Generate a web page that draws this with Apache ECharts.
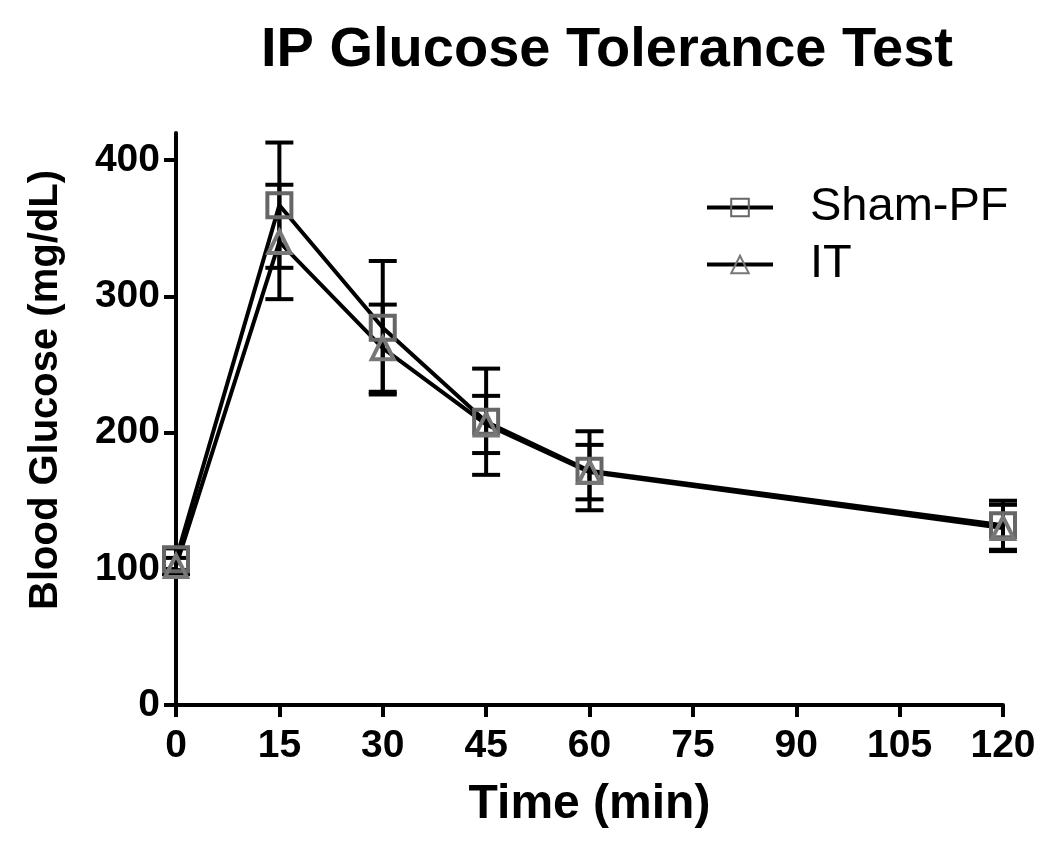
<!DOCTYPE html>
<html><head><meta charset="utf-8">
<script src="https://cdn.jsdelivr.net/npm/echarts@6/dist/echarts.min.js"></script>
<style>html,body{margin:0;padding:0;background:#fff}#c{width:1050px;height:861px}</style>
</head><body><div id="c"></div>
<script>
const times = [0, 15, 30, 45, 60, 120];
const shamMean = [107, 367, 277, 208, 172, 132];
const shamSem  = [8, 46, 49, 39, 29, 18];
const itMean   = [102, 340, 262, 206, 171, 130];
const itSem    = [6, 42, 32, 21, 20, 17];
const xTicks = [0, 15, 30, 45, 60, 75, 90, 105, 120];
const yTicks = [0, 100, 200, 300, 400];

const FONT = '"Liberation Sans", Arial, sans-serif';
const chart = echarts.init(document.getElementById('c'));

function errData(mean, sem) {
  return times.map((t, i) => [t, mean[i] - sem[i], mean[i] + sem[i]]);
}
function errRender(params, api) {
  const x = api.value(0);
  const lo = api.coord([x, api.value(1)]);
  const hi = api.coord([x, api.value(2)]);
  const w = 14;
  const st = { stroke: '#000', lineWidth: 4 };
  return { type: 'group', children: [
    { type: 'line', shape: { x1: lo[0], y1: lo[1], x2: hi[0], y2: hi[1] }, style: st },
    { type: 'line', shape: { x1: lo[0] - w, y1: lo[1], x2: lo[0] + w, y2: lo[1] }, style: st },
    { type: 'line', shape: { x1: hi[0] - w, y1: hi[1], x2: hi[0] + w, y2: hi[1] }, style: st }
  ]};
}

chart.setOption({
  animation: false,
  backgroundColor: '#fff',
  title: {
    text: 'IP Glucose Tolerance Test',
    left: 602, top: 18, textAlign: 'center',
    textStyle: { fontFamily: FONT, fontWeight: 'bold', fontSize: 56, color: '#000' }
  },
  legend: {
    left: 700, top: 179, orient: 'vertical', itemGap: 10,
    itemWidth: 66, itemHeight: 22,
    lineStyle: { width: 4, color: '#000' },
    textStyle: { fontFamily: FONT, fontSize: 47, color: '#000', padding: [0, 0, 0, 32] },
    data: ['Sham-PF', 'IT']
  },
  grid: { left: 176, right: 47, top: 133, bottom: 156, containLabel: false },
  xAxis: {
    type: 'value', min: 0, max: 120, interval: 15,
    name: 'Time (min)', nameLocation: 'middle', nameGap: 76,
    nameTextStyle: { fontFamily: FONT, fontWeight: 'bold', fontSize: 48, color: '#000' },
    axisLine: { lineStyle: { color: '#000', width: 4 } },
    axisTick: { length: 12, lineStyle: { color: '#000', width: 4 }, customValues: xTicks },
    axisLabel: { margin: 22, fontFamily: FONT, fontWeight: 'bold', fontSize: 39, color: '#000', customValues: xTicks },
    splitLine: { show: false }
  },
  yAxis: {
    type: 'value', min: 0, max: 420,
    name: 'Blood Glucose (mg/dL)', nameLocation: 'middle', nameGap: 110,
    nameTextStyle: { fontFamily: FONT, fontWeight: 'bold', fontSize: 40, color: '#000', padding: [0, 0, 0, 58] },
    axisLine: { lineStyle: { color: '#000', width: 4 } },
    axisTick: { length: 12, lineStyle: { color: '#000', width: 4 }, customValues: yTicks },
    axisLabel: { margin: 16, fontFamily: FONT, fontWeight: 'bold', fontSize: 39, color: '#000', customValues: yTicks },
    splitLine: { show: false }
  },
  series: [
    { type: 'custom', name: 'errSham', renderItem: errRender, data: errData(shamMean, shamSem), z: 1, silent: true },
    { type: 'custom', name: 'errIT', renderItem: errRender, data: errData(itMean, itSem), z: 1, silent: true },
    {
      type: 'line', name: 'Sham-PF', data: times.map((t, i) => [t, shamMean[i]]),
      symbol: 'rect', symbolSize: 24, z: 3,
      lineStyle: { color: '#000', width: 4 },
      itemStyle: { color: 'rgba(0,0,0,0)', borderColor: '#666', borderWidth: 4 }
    },
    {
      type: 'line', name: 'IT', data: times.map((t, i) => [t, itMean[i]]),
      symbol: 'triangle', symbolSize: 22, z: 3,
      lineStyle: { color: '#000', width: 4 },
      itemStyle: { color: 'rgba(0,0,0,0)', borderColor: '#777', borderWidth: 4 }
    }
  ]
});
</script></body></html>
